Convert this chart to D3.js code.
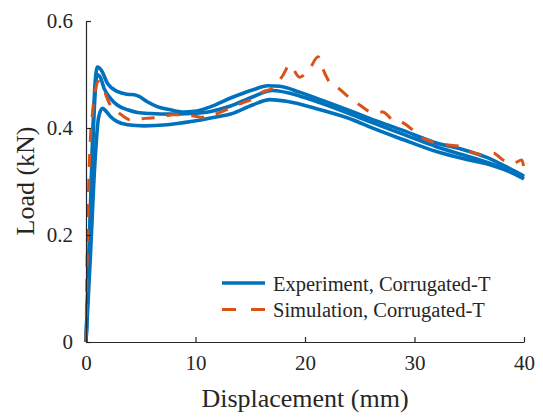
<!DOCTYPE html>
<html lang="en">
<head>
<meta charset="UTF-8">
<title>Load - displacement</title>
<style>
  body { margin: 0; background: #fff; }
  svg { display: block; }
  text { font-family: "Liberation Serif", "Times New Roman", serif; fill: #262626; }
</style>
</head>
<body>
<svg id="chart"></svg>
<script src="https://d3js.org/d3.v7.min.js"></script>
<script>
// experiment, three specimens (displacement in mm, load in kN)
var expA_x = [0, 0.3, 0.6, 0.85, 1.05, 1.4, 1.95, 2.9, 3.8, 4.4, 4.85, 5.6, 6.5, 7.7, 8.9, 9.9, 11.4, 13.2, 15.2, 16.6, 17.7, 19.5, 21.4, 24.4, 25.9, 29.0, 32.0, 34.4, 36.6, 38.7, 40];
var expA_y = [0, 0.18, 0.38, 0.49, 0.514, 0.508, 0.484, 0.468, 0.463, 0.462, 0.459, 0.449, 0.440, 0.434, 0.430, 0.431, 0.440, 0.456, 0.471, 0.479, 0.478, 0.467, 0.453, 0.430, 0.418, 0.395, 0.372, 0.360, 0.345, 0.324, 0.310];

var expB_x = [0, 0.3, 0.6, 0.85, 1.0, 1.3, 1.65, 2.25, 2.85, 3.8, 4.7, 5.9, 7.7, 9.6, 11.4, 13.2, 15.2, 17.0, 19.5, 21.4, 24.4, 25.9, 29.0, 32.0, 34.4, 36.6, 38.7, 40];
var expB_y = [0, 0.17, 0.36, 0.47, 0.500, 0.495, 0.474, 0.455, 0.443, 0.434, 0.429, 0.427, 0.426, 0.427, 0.431, 0.441, 0.458, 0.470, 0.460, 0.447, 0.424, 0.412, 0.388, 0.365, 0.350, 0.336, 0.320, 0.308];

var expC_x = [0, 0.4, 0.8, 1.15, 1.5, 1.8, 2.25, 2.85, 3.8, 5.3, 7.4, 9.6, 12.0, 13.2, 15.2, 16.8, 18.3, 21.4, 24.4, 25.9, 29.0, 32.0, 34.4, 36.6, 38.7, 40];
var expC_y = [0, 0.16, 0.33, 0.42, 0.437, 0.432, 0.421, 0.412, 0.406, 0.404, 0.406, 0.412, 0.421, 0.426, 0.443, 0.453, 0.450, 0.434, 0.415, 0.402, 0.378, 0.356, 0.343, 0.333, 0.318, 0.305];

// simulation
var sim_x = [0, 0.1, 0.3, 0.6, 0.85, 1.1, 1.4, 2.3, 2.9, 4.1, 5.4, 6.8, 8.0, 9.6, 10.8, 12.2, 14.3, 15.0, 16.2, 17.0, 18.0, 18.6, 19.5, 20.4, 21.2, 21.6, 22.3, 23.0, 24.1, 25.0, 26.1, 27.1, 28.0, 29.0, 30.2, 30.8, 32.5, 34.3, 35.1, 36.3, 37.2, 38.1, 39.0, 39.8, 40];
var sim_y = [0, 0.15, 0.33, 0.43, 0.47, 0.487, 0.48, 0.44, 0.43, 0.415, 0.418, 0.42, 0.425, 0.423, 0.420, 0.429, 0.447, 0.452, 0.468, 0.474, 0.499, 0.518, 0.495, 0.51, 0.533, 0.512, 0.484, 0.475, 0.456, 0.443, 0.430, 0.430, 0.415, 0.409, 0.390, 0.381, 0.370, 0.365, 0.356, 0.350, 0.353, 0.340, 0.334, 0.340, 0.325];

var xTicks = [0, 10, 20, 30, 40];
var yTicks = [0, 0.2, 0.4, 0.6];
var legendLabels = ["Experiment, Corrugated-T", "Simulation, Corrugated-T"];

var width = 543, height = 418;
var margin = {top: 21, right: 19, bottom: 76, left: 86};
var blue = "#0072BD", orange = "#D95319", axisCol = "#262626";
var serif = "'Liberation Serif', 'Times New Roman', serif";

var svg = d3.select("#chart").attr("width", width).attr("height", height);

var x = d3.scaleLinear().domain([0, 40]).range([margin.left, width - margin.right]);
var y = d3.scaleLinear().domain([0, 0.6]).range([height - margin.bottom, margin.top]);

function pts(xs, ys) {
    return xs.map(function (d, i) { return [d, ys[i]]; });
}
var line = d3.line()
    .x(function (d) { return x(d[0]); })
    .y(function (d) { return y(d[1]); })
    .curve(d3.curveMonotoneX);

// curves
var plot = svg.append("g");
[[expA_x, expA_y], [expB_x, expB_y], [expC_x, expC_y]].forEach(function (s) {
    plot.append("path")
        .attr("d", line(pts(s[0], s[1])))
        .attr("fill", "none")
        .attr("stroke", blue)
        .attr("stroke-width", 3.6)
        .attr("stroke-linejoin", "round");
});
plot.append("path")
    .attr("d", line(pts(sim_x, sim_y)))
    .attr("fill", "none")
    .attr("stroke", orange)
    .attr("stroke-width", 3)
    .attr("stroke-dasharray", "13,12");

// axes (ticks inward, no box)
var xAxis = d3.axisBottom(x).tickValues(xTicks).tickSizeInner(-5).tickSizeOuter(0).tickPadding(13)
    .tickFormat(d3.format("d"));
var gx = svg.append("g")
    .attr("transform", "translate(0," + (height - margin.bottom) + ")")
    .call(xAxis);

var yAxis = d3.axisLeft(y).tickValues(yTicks).tickSizeInner(-5).tickSizeOuter(0).tickPadding(13)
    .tickFormat(function (d) { return d === 0 ? "0" : d3.format(".1f")(d); });
var gy = svg.append("g")
    .attr("transform", "translate(" + margin.left + ",0)")
    .call(yAxis);

[gx, gy].forEach(function (g) {
    g.attr("font-family", serif).attr("font-size", 21);
    g.select(".domain").attr("stroke", axisCol).attr("stroke-width", 1.2);
    g.selectAll(".tick line").attr("stroke", axisCol).attr("stroke-width", 1.2);
    g.selectAll(".tick text").attr("fill", axisCol);
});

// axis titles
svg.append("text")
    .attr("x", (margin.left + width - margin.right) / 2)
    .attr("y", 407)
    .style("text-anchor", "middle")
    .style("font-size", "26px")
    .text("Displacement (mm)");

svg.append("text")
    .attr("transform", "rotate(-90)")
    .attr("x", -181)
    .attr("y", 34)
    .style("text-anchor", "middle")
    .style("font-size", "26px")
    .text("Load (kN)");

// legend
var legend = svg.append("g").attr("transform", "translate(222,283)");
legendLabels.forEach(function (lab, i) {
    var row = legend.append("g").attr("transform", "translate(0," + (i * 26.5) + ")");
    row.append("line")
        .attr("x1", 0).attr("x2", 43)
        .attr("y1", 0).attr("y2", 0)
        .attr("stroke", i === 0 ? blue : orange)
        .attr("stroke-width", i === 0 ? 3.6 : 3)
        .attr("stroke-dasharray", i === 0 ? null : "14,15");
    row.append("text")
        .attr("x", 51)
        .attr("y", 7.5)
        .style("font-size", "20.5px")
        .text(lab);
});
</script>
</body>
</html>
